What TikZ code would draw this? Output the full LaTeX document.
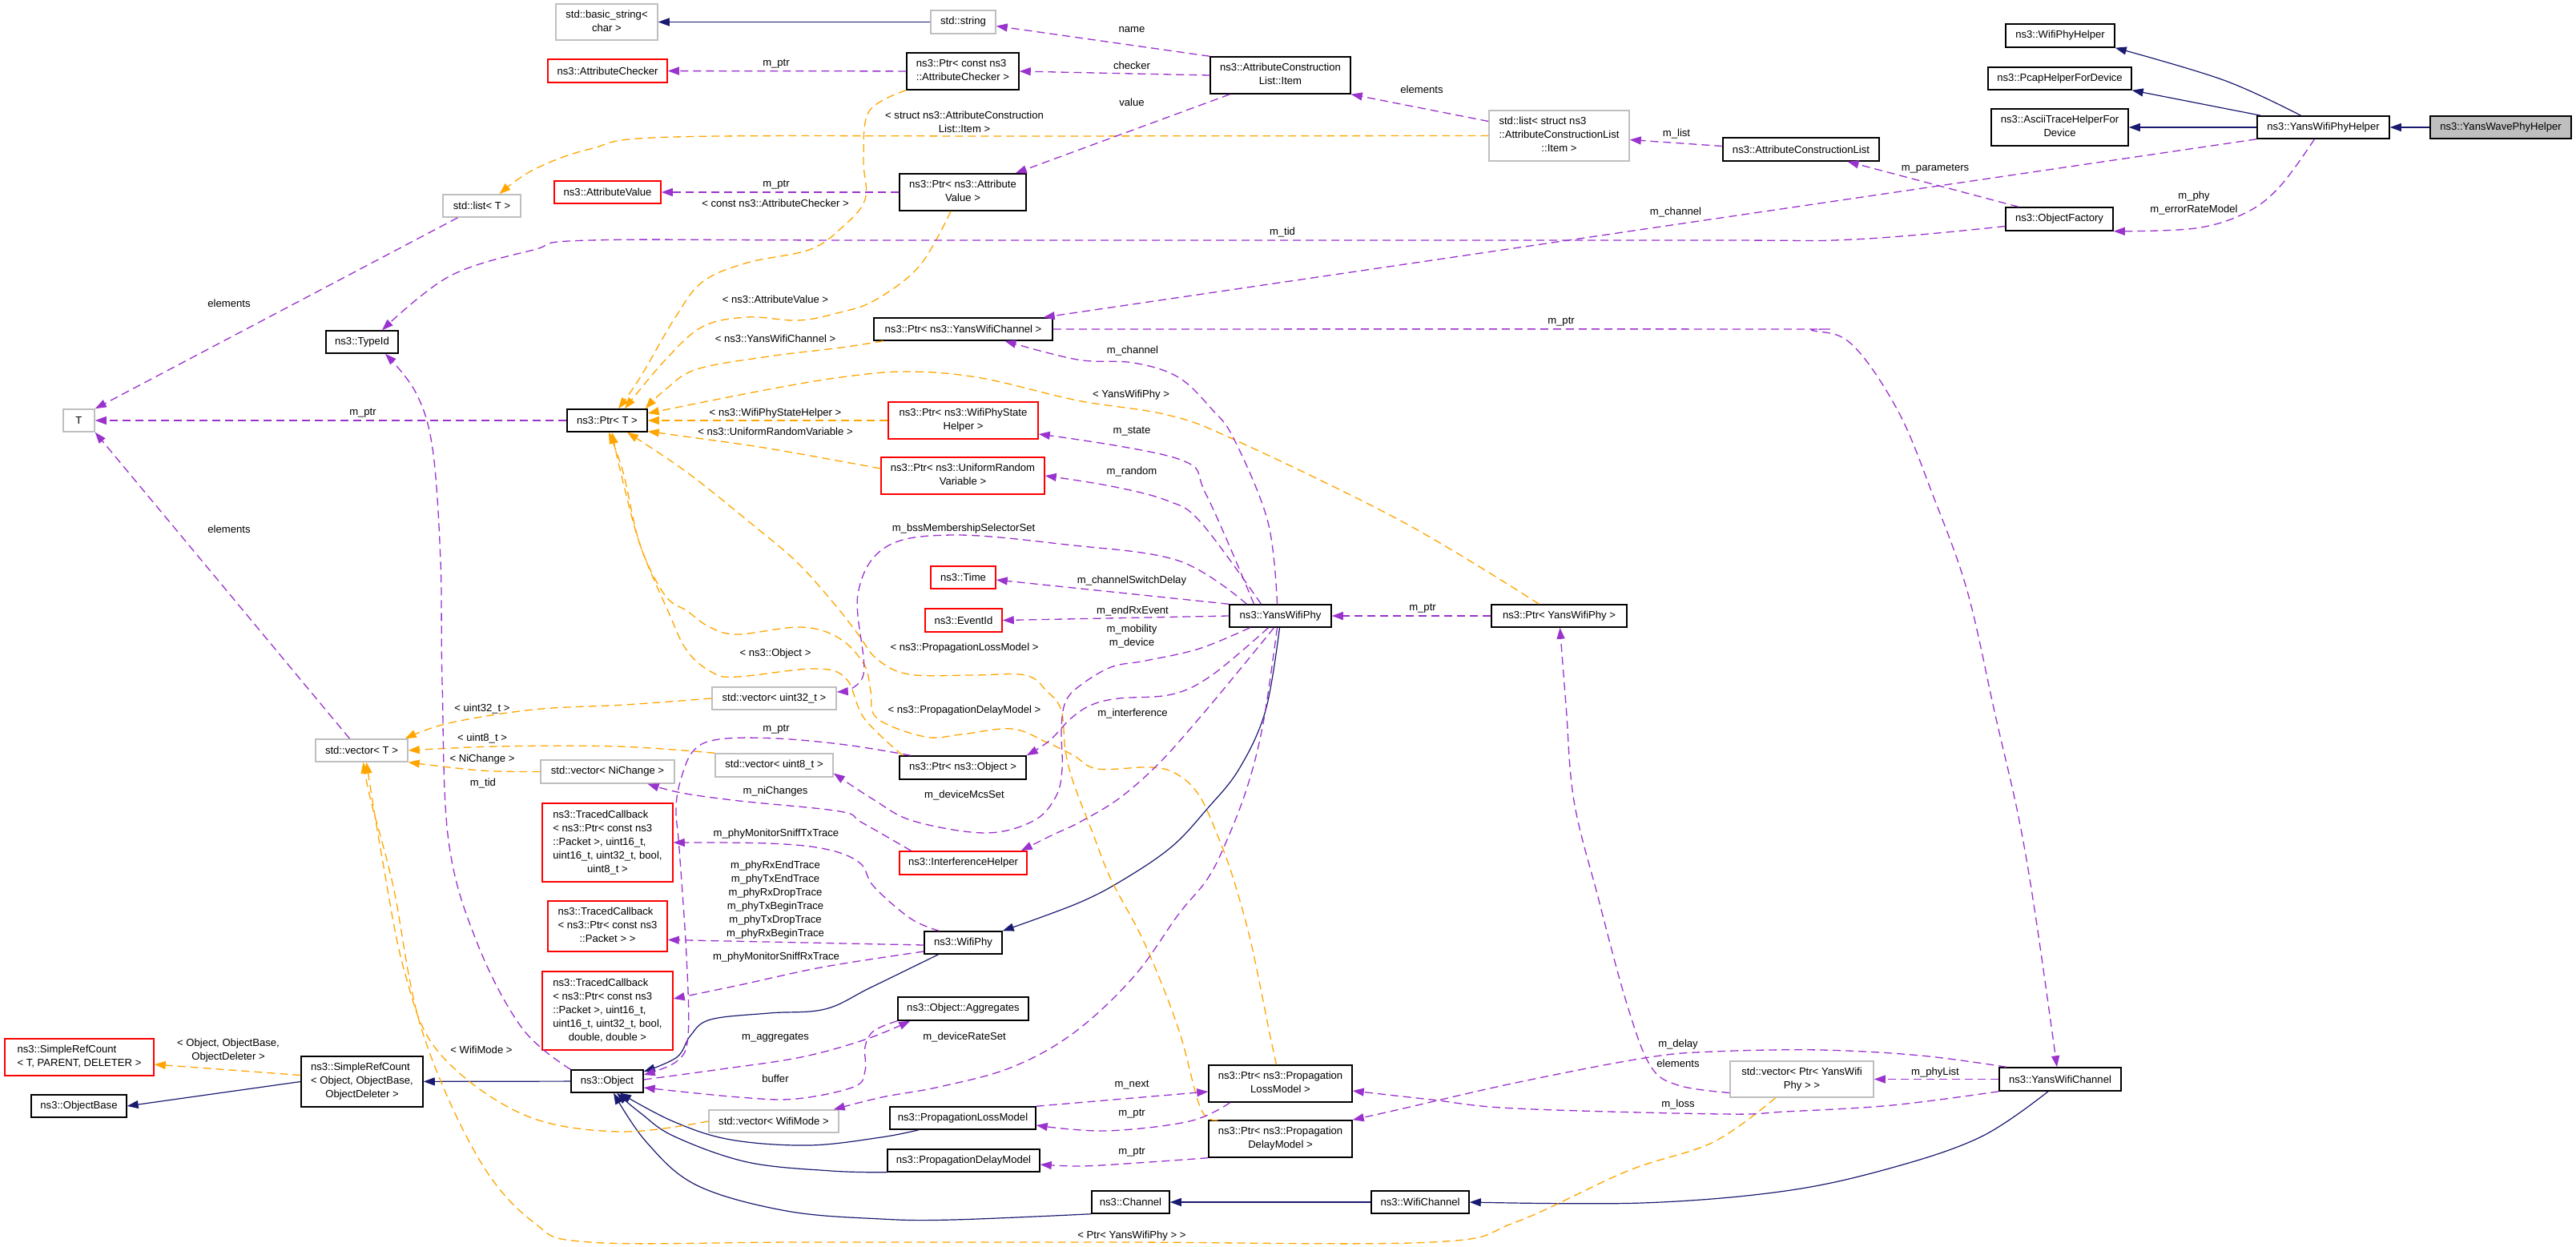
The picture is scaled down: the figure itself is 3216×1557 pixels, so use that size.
\documentclass[tikz,border=0pt]{standalone}
\usepackage{fontspec}
\setmainfont{Liberation Sans}
\usetikzlibrary{arrows.meta,positioning}
\definecolor{inhblue}{HTML}{191970}
\definecolor{usepurple}{HTML}{9A32CD}
\definecolor{tmplorange}{HTML}{FFA500}
\definecolor{boxgray}{HTML}{BFBFBF}
\newcommand{\lbfont}{\fontsize{13.1}{17}\selectfont}
\newcommand{\ml}[2]{\begin{tabular}{@{}l@{}}#1\\\multicolumn{1}{@{}c@{}}{#2}\end{tabular}}
\tikzset{
  box/.style={rectangle, inner sep=0pt, line width=1.5pt, font=\lbfont},
  cls/.style={box, draw=black},
  undoc/.style={box, draw=red},
  ext/.style={box, draw=boxgray},
  self/.style={box, draw=black, fill=boxgray},
  sz/.style 2 args={minimum width=#1pt, minimum height=#2pt},
  elbl/.style={inner sep=0pt, font=\lbfont, align=center},
  tip/.style={-{Triangle[length=14pt,width=10pt]}},
  inh/.style={tip, draw=inhblue, line width=1.2pt},
  use/.style={tip, draw=usepurple, line width=1.3pt, dash pattern=on 10pt off 6pt},
  tmpl/.style={tip, draw=tmplorange, line width=1.3pt, dash pattern=on 10pt off 6pt},
  crv/.style={smooth, tension=0.6}
}
\begin{document}
\begin{tikzpicture}[x=1pt,y=-1pt]
\useasboundingbox (0,0) rectangle (3216,1557);
\node[ext, sz={127}{45}] (bstr) at (757.5,27.5) {\ml{std::basic\_string<}{char >}};
\node[ext, sz={81}{29}] (str) at (1202.5,27.5) {std::string};
\node[undoc, sz={149}{29}] (achk) at (758.5,88.5) {ns3::AttributeChecker};
\node[cls, sz={140}{46}] (pachk) at (1202,89) {\ml{ns3::Ptr< const ns3}{::AttributeChecker >}};
\node[cls, sz={175}{46}] (item) at (1598.5,94) {\ml{ns3::AttributeConstruction}{List::Item}};
\node[ext, sz={175}{63}] (lstItem) at (1946.5,169.5) {\ml{std::list< struct ns3\\::AttributeConstructionList}{::Item >}};
\node[ext, sz={97}{28}] (lstT) at (601.5,257) {std::list< T >};
\node[undoc, sz={133}{28}] (aval) at (758.5,240) {ns3::AttributeValue};
\node[cls, sz={158}{46}] (paval) at (1202,240) {\ml{ns3::Ptr< ns3::Attribute}{Value >}};
\node[cls, sz={90}{28}] (tid) at (452,427) {ns3::TypeId};
\node[ext, sz={39}{28}] (T) at (98.5,525) {T};
\node[cls, sz={100}{28}] (ptrT) at (758,525) {ns3::Ptr< T >};
\node[cls, sz={223}{28}] (pywc) at (1202.5,411) {ns3::Ptr< ns3::YansWifiChannel >};
\node[undoc, sz={187}{46}] (pwpsh) at (1202.5,525) {\ml{ns3::Ptr< ns3::WifiPhyState}{Helper >}};
\node[undoc, sz={204}{46}] (purv) at (1202,594) {\ml{ns3::Ptr< ns3::UniformRandom}{Variable >}};
\node[undoc, sz={81}{28}] (time) at (1202.5,721) {ns3::Time};
\node[undoc, sz={96}{29}] (evid) at (1203,774.5) {ns3::EventId};
\node[cls, sz={127}{28}] (ywp) at (1598.5,769) {ns3::YansWifiPhy};
\node[cls, sz={169}{28}] (pywp) at (1946.5,769) {ns3::Ptr< YansWifiPhy >};
\node[cls, sz={158}{29}] (pobj) at (1202,958.5) {ns3::Ptr< ns3::Object >};
\node[ext, sz={155}{28}] (vu32) at (966.5,872) {std::vector< uint32\_t >};
\node[ext, sz={115}{28}] (vT) at (451.5,937) {std::vector< T >};
\node[ext, sz={147}{29}] (vu8) at (966.5,955.5) {std::vector< uint8\_t >};
\node[ext, sz={167}{29}] (vnic) at (758.5,963.5) {std::vector< NiChange >};
\node[undoc, sz={163}{98}] (tcTx) at (758.5,1052) {\ml{ns3::TracedCallback\\< ns3::Ptr< const ns3\\::Packet >, uint16\_t,\\uint16\_t, uint32\_t, bool,}{uint8\_t >}};
\node[undoc, sz={149}{63}] (tcPkt) at (758.5,1156.5) {\ml{ns3::TracedCallback\\< ns3::Ptr< const ns3}{::Packet > >}};
\node[undoc, sz={163}{98}] (tcRx) at (758.5,1262) {\ml{ns3::TracedCallback\\< ns3::Ptr< const ns3\\::Packet >, uint16\_t,\\uint16\_t, uint32\_t, bool,}{double, double >}};
\node[undoc, sz={159}{29}] (intf) at (1202.5,1077.5) {ns3::InterferenceHelper};
\node[cls, sz={97}{28}] (wphy) at (1202.5,1177) {ns3::WifiPhy};
\node[cls, sz={163}{29}] (aggr) at (1202.5,1259.5) {ns3::Object::Aggregates};
\node[undoc, sz={186}{46}] (srcT) at (99,1320) {\ml{ns3::SimpleRefCount}{< T, PARENT, DELETER >}};
\node[cls, sz={119}{28}] (obase) at (98.5,1381) {ns3::ObjectBase};
\node[cls, sz={152}{63}] (srcObj) at (452,1350.5) {\ml{ns3::SimpleRefCount\\< Object, ObjectBase,}{ObjectDeleter >}};
\node[cls, sz={90}{28}] (obj) at (758,1350) {ns3::Object};
\node[ext, sz={162}{28}] (vwm) at (966,1400) {std::vector< WifiMode >};
\node[cls, sz={179}{46}] (pplm) at (1598.5,1353) {\ml{ns3::Ptr< ns3::Propagation}{LossModel >}};
\node[cls, sz={182}{28}] (plm) at (1202,1396) {ns3::PropagationLossModel};
\node[cls, sz={179}{46}] (ppdm) at (1598.5,1422) {\ml{ns3::Ptr< ns3::Propagation}{DelayModel >}};
\node[cls, sz={190}{28}] (pdm) at (1203,1449) {ns3::PropagationDelayModel};
\node[cls, sz={97}{28}] (chan) at (1411.5,1501) {ns3::Channel};
\node[cls, sz={122}{28}] (wchan) at (1773,1501) {ns3::WifiChannel};
\node[ext, sz={179}{45}] (vpywp) at (2249.5,1347.5) {\ml{std::vector< Ptr< YansWifi}{Phy > >}};
\node[cls, sz={152}{29}] (ywc) at (2572,1347.5) {ns3::YansWifiChannel};
\node[cls, sz={195}{29}] (acl) at (2248.5,186.5) {ns3::AttributeConstructionList};
\node[cls, sz={134}{29}] (ofac) at (2571,273.5) {ns3::ObjectFactory};
\node[cls, sz={136}{29}] (wph) at (2572,44.5) {ns3::WifiPhyHelper};
\node[cls, sz={179}{28}] (pcap) at (2571.5,98) {ns3::PcapHelperForDevice};
\node[cls, sz={171}{46}] (ascii) at (2571.5,159) {\ml{ns3::AsciiTraceHelperFor}{Device}};
\node[cls, sz={165}{28}] (ywph) at (2900.5,159) {ns3::YansWifiPhyHelper};
\node[self, sz={176}{28}] (ywave) at (3122,159) {ns3::YansWavePhyHelper};

\draw[inh] (str) -- (bstr);
\draw[inh] plot[crv] coordinates {([xshift=-28pt]ywph.north) (2776,100) (wph.south east)};
\draw[inh] ([xshift=-78pt]ywph.north) -- (pcap.south east);
\draw[inh] (ywph) -- (ascii);
\draw[inh] (ywave) -- (ywph);
\draw[inh] plot[crv] coordinates {([xshift=-1pt]ywp.south) (1580,887) (1547,960) (1507,1010) (1463,1057) (1403,1098) (1345,1128) (wphy.north east)};
\draw[inh] plot[crv] coordinates {([xshift=-31pt]wphy.south) (1087,1233) (1030,1260) (960,1265) (887,1273) (862,1293) (845,1320) ([yshift=12pt]obj.east)};
\draw[inh] (obj) -- (srcObj);
\draw[inh] (srcObj.west) -- (obase.east);
\draw[inh] plot[crv] coordinates {([xshift=-55pt]plm.south) (1100,1420) (1010,1430) (912,1423) (840,1400) ([xshift=16pt]obj.south)};
\draw[inh] plot[crv] coordinates {(pdm.south west) (1038,1462) (933,1451) (842,1419) (800,1390) ([xshift=12pt]obj.south)};
\draw[inh] plot[crv] coordinates {(chan.south west) (1190,1523) (1100,1522) (982,1512) (870,1480) (807,1426) ([xshift=8pt]obj.south)};
\draw[inh] (wchan) -- (chan);
\draw[inh] plot[crv] coordinates {([xshift=-15pt]ywc.south) (2474,1419) (2362,1458) (2229,1487) (2050,1502) (wchan.east)};

\draw[tmpl] plot[crv] coordinates {(lstItem.west) (1300,170) (842,171) (737,186) (666,212) ([xshift=22pt]lstT.north)};
\draw[tmpl] plot[crv] coordinates {(pachk.south west) (1085,139) (1078,199) (1080,249) (1050,285) (1010,312) (933,328) (877,352) (842,398) (800,470) ([xshift=14pt]ptrT.north)};
\draw[tmpl] plot[crv] coordinates {([xshift=-15pt]paval.south) (1148,332) (1092,375) (1045,391) (996,400) (933,396) (877,408) (830,450) ([xshift=22pt]ptrT.north)};
\draw[tmpl] plot[crv] coordinates {([xshift=-100pt]pywc.south) (1050,434) (960,445) (870,461) (830,487) ([xshift=-3pt]ptrT.north east)};
\draw[tmpl] plot[crv] coordinates {([xshift=-25pt]pywp.north) (1752,652) (1541,549) (1457,518) (1345,500) (1225,472) (1134,464) (1050,471) (950,488) (ptrT.10)};
\draw[tmpl] (pwpsh) -- (ptrT);
\draw[tmpl] plot[crv] coordinates {(purv.175) (960,560) (870,547) (ptrT.-15)};
\draw[tmpl] plot[crv] coordinates {([xshift=-75pt]pobj.north) (1079,897) (1056,847) (1016,835) (921,845) (890,840) (858,813) (834,763) (799,680) (775,590) ([xshift=6pt]ptrT.south)};
\draw[tmpl] plot[crv] coordinates {([xshift=-5pt]pplm.north) (1585,1290) (1562,1178) (1540,1098) (1520,1043) (1497,993) (1470,967) (1437,958) (1370,960) (1340,943) (1307,927) (1263,910) (1200,917) (1155,920) (1095,897) (1087,863) (1079,830) (1048,797) (1000,783) (921,792) (886,783) (858,763) (830,743) (799,680) (778,590) ([xshift=2pt]ptrT.south)};
\draw[tmpl] plot[crv] coordinates {([xshift=-78pt]ppdm.north) (1499,1384) (1471,1284) (1429,1178) (1387,1098) (1363,1037) (1340,977) (1330,937) (1325,887) (1307,863) (1280,843) (1214,843) (1135,842) (1095,823) (1072,793) (1044,757) (996,703) (937,653) (858,590) ([xshift=25pt]ptrT.south)};
\draw[tmpl] plot[crv] coordinates {(vu32.west) (780,880) (666,886) (560,903) ([xshift=-4pt]vT.north east)};
\draw[tmpl] plot[crv] coordinates {(vu8.north west) (772,932) (620,932) (vT.east)};
\draw[tmpl] plot[crv] coordinates {(vnic.west) (600,962) (vT.south east)};
\draw[tmpl] plot[crv] coordinates {(vwm.west) (772,1413) (652,1391) (547,1313) (505,1213) (477,1071) ([xshift=6pt]vT.south)};
\draw[tmpl] plot[crv] coordinates {([xshift=-33pt]vpywp.south) (2139,1426) (2032,1462) (1892,1526) (1787,1551) (1400,1551) (1000,1551) (737,1551) (666,1526) (596,1444) (526,1284) (491,1107) (463,1000) ([xshift=2pt]vT.south)};
\draw[tmpl] ([yshift=8pt]srcObj.west) -- ([yshift=-9pt]srcT.east);

\draw[use] (item.north west) -- ([yshift=-5pt]str.east);
\draw[use] (item.west) -- (pachk.east);
\draw[use] ([xshift=-63pt]item.south) -- ([xshift=-14pt]paval.north east);
\draw[use] ([yshift=18pt]lstItem.west) -- (item.south east);
\draw[use] ([yshift=4pt]acl.west) -- ([yshift=-5pt]lstItem.east);
\draw[use] ([xshift=-51pt]ofac.north) -- ([xshift=58pt]acl.south);
\draw[use] plot[crv] coordinates {([xshift=-11pt]ywph.south) (2847,232) (2805,265) (2741,285) (ofac.south east)};
\draw[use] plot[crv] coordinates {([yshift=-9pt]ofac.west) (2313,299) (2100,300) (1100,300) (737,300) (666,312) (561,345) ([xshift=25pt]tid.north)};
\draw[use] (ywph.south west) -- ([xshift=-12pt]pywc.north east);
\draw[use] plot[crv] coordinates {(pywc.east) (2200,411) (2264,413) (2313,431) (2370,514) (2413,618) (2456,738) (2491,893) (2520,1020) (2541,1142) ([xshift=-4pt]ywc.north)};
\draw[use] (pachk) -- (achk);
\draw[use] (paval) -- (aval);
\draw[use] (ptrT) -- (T);
\draw[use] ([xshift=-30pt]lstT.south) -- (T.north east);
\draw[use] ([xshift=-15pt]vT.north) -- (T.south east);
\draw[use] plot[crv] coordinates {(obj.north west) (652,1284) (596,1178) (560,1050) (552,850) (550,700) (540,560) (519,490) ([xshift=29pt]tid.south)};
\draw[use] plot[crv] coordinates {([xshift=-4pt]ywp.north) (1583,652) (1541,549) (1513,511) (1471,471) (1415,453) (1345,449) ([xshift=52pt]pywc.south)};
\draw[use] plot[crv] coordinates {([xshift=-33pt]ywp.north) (1506,618) (1471,573) ([yshift=-17pt]pwpsh.east)};
\draw[use] plot[crv] coordinates {([xshift=-24pt]ywp.north) (1499,652) (1457,625) (1387,607) (purv.east)};
\draw[use] plot[crv] coordinates {([xshift=-42pt]ywp.north) (1471,700) (1331,680) (1190,668) (1106,683) (1071,742) (1078,842) ([yshift=8pt]vu32.east)};
\draw[use] (ywp.north west) -- ([yshift=-3pt]time.east);
\draw[use] (ywp.west) -- (evid.east);
\draw[use] (pywp) -- (ywp);
\draw[use] plot[crv] coordinates {([xshift=-15pt]ywp.south) (1513,843) (1463,867) (1397,872) (1363,880) (1337,897) (1310,925) (pobj.north east)};
\draw[use] plot[crv] coordinates {([xshift=-8pt]ywp.south) (1547,837) (1497,897) (1447,953) (1397,997) (1347,1027) (1313,1043) ([xshift=-8pt]intf.north east)};
\draw[use] plot[crv] coordinates {([xshift=-38pt]ywp.south) (1497,810) (1430,825) (1387,833) (1347,857) (1330,877) (1325,910) (1326,960) (1318,995) (1290,1025) (1230,1040) (1140,1025) (1090,998) ([yshift=-10pt]vu8.east)};
\draw[use] plot[crv] coordinates {([xshift=-4pt]ywp.south) (1577,903) (1557,983) (1530,1053) (1507,1098) (1471,1142) (1415,1220) (1340,1290) (1262,1333) (1173,1357) (1101,1370) ([xshift=-7pt]vwm.north east)};
\draw[use] plot[crv] coordinates {([xshift=-65pt]pobj.north) (1056,930) (969,922) (898,923) (866,937) (850,973) (844,1010) (848,1060) (857,1193) (859,1293) (845,1325) ([yshift=8pt]obj.east)};
\draw[use] plot[crv] coordinates {([yshift=2pt]obj.east) (900,1335) (1000,1320) (1080,1298) ([xshift=16pt]aggr.south west)};
\draw[use] plot[crv] coordinates {(aggr.south west) (1091,1287) (1080,1307) (1080,1337) (1066,1357) (994,1372) (923,1370) ([yshift=-8pt]obj.east)};
\draw[use] plot[crv] coordinates {([xshift=-65pt]intf.north) (1076,1027) (1048,1013) (923,1000) (851,990) ([xshift=50pt]vnic.south)};
\draw[use] plot[crv] coordinates {([xshift=-30pt]wphy.north) (1137,1147) (1091,1107) (1073,1077) (1030,1060) (959,1053) (tcTx.east)};
\draw[use] ([yshift=-3pt]wphy.west) -- ([yshift=-17pt]tcPkt.east);
\draw[use] plot[crv] coordinates {([yshift=-11pt]wphy.west) (1030,1207) (923,1230) ([yshift=15pt]tcRx.east)};
\draw[use] (plm.north east) -- ([yshift=-10pt]pplm.west);
\draw[use] plot[crv] coordinates {([xshift=-63pt]pplm.south) (1485,1400) (1380,1412) ([yshift=-9pt]plm.east)};
\draw[use] plot[crv] coordinates {(ppdm.south west) (1420,1452) (1350,1456) ([yshift=-5pt]pdm.east)};
\draw[use] plot[crv] coordinates {([xshift=-67pt]ywc.north) (2398,1318) (2273,1311) (2139,1313) (2053,1321) (1892,1352) (1752,1384) (ppdm.north east)};
\draw[use] plot[crv] coordinates {([yshift=-17pt]vpywp.west) (2095,1355) (2060,1330) (2030,1250) (1995,1120) (1965,1000) (1955,880) ([xshift=1pt]pywp.south)};
\draw[use] plot[crv] coordinates {(ywc.south west) (2362,1380) (2229,1388) (2150,1391) (1892,1384) (1787,1373) ([yshift=-9pt]pplm.east)};
\draw[use] (ywc) -- (vpywp);

\node[elbl] (lName) at (1413,37) {name};
\node[elbl] (lChecker) at (1413,82) {checker};
\node[elbl] (lValue) at (1413,128) {value};
\node[elbl] (lElemItem) at (1775,112) {elements};
\node[elbl] (lList) at (2093,167) {m\_list};
\node[elbl] (lParams) at (2416,211) {m\_parameters};
\node[elbl] (lPhy) at (2739,254) {m\_phy\\m\_errorRateModel};
\node[elbl] (lTidOF) at (1601,290) {m\_tid};
\node[elbl] (lChanHelper) at (2092,265) {m\_channel};
\node[elbl] (lPtrYwc) at (1949,402) {m\_ptr};
\node[elbl] (lStructItem) at (1204,152) {< struct ns3::AttributeConstruction\\List::Item >};
\node[elbl] (lConstChk) at (968,254) {< const ns3::AttributeChecker >};
\node[elbl] (lPtrChk) at (969,80) {m\_ptr};
\node[elbl] (lPtrVal) at (969,231) {m\_ptr};
\node[elbl] (lAttrVal) at (968,374) {< ns3::AttributeValue >};
\node[elbl] (lYwcT) at (968,423) {< ns3::YansWifiChannel >};
\node[elbl] (lElemList) at (286,379) {elements};
\node[elbl] (lPtrT) at (453,516) {m\_ptr};
\node[elbl] (lWpsh) at (968,516) {< ns3::WifiPhyStateHelper >};
\node[elbl] (lUrv) at (968,539) {< ns3::UniformRandomVariable >};
\node[elbl] (lElemVec) at (286,661) {elements};
\node[elbl] (lObjT) at (968,816) {< ns3::Object >};
\node[elbl] (lU32) at (602,885) {< uint32\_t >};
\node[elbl] (lU8) at (602,922) {< uint8\_t >};
\node[elbl] (lNic) at (602,948) {< NiChange >};
\node[elbl] (lTidObj) at (603,978) {m\_tid};
\node[elbl] (lPtrObj) at (969,911) {m\_ptr};
\node[elbl] (lNiChanges) at (968,988) {m\_niChanges};
\node[elbl] (lYwpT) at (1412,493) {< YansWifiPhy >};
\node[elbl] (lChanPhy) at (1414,438) {m\_channel};
\node[elbl] (lState) at (1413,539) {m\_state};
\node[elbl] (lRandom) at (1413,589) {m\_random};
\node[elbl] (lBss) at (1203,660) {m\_bssMembershipSelectorSet};
\node[elbl] (lSwitch) at (1413,725) {m\_channelSwitchDelay};
\node[elbl] (lEndRx) at (1414,763) {m\_endRxEvent};
\node[elbl] (lPtrYwp) at (1776,760) {m\_ptr};
\node[elbl] (lMobility) at (1413,795) {m\_mobility\\m\_device};
\node[elbl] (lPlmT) at (1204,809) {< ns3::PropagationLossModel >};
\node[elbl] (lPdmT) at (1204,887) {< ns3::PropagationDelayModel >};
\node[elbl] (lInterf) at (1414,891) {m\_interference};
\node[elbl] (lMcs) at (1204,993) {m\_deviceMcsSet};
\node[elbl] (lSniffTx) at (969,1041) {m\_phyMonitorSniffTxTrace};
\node[elbl] (lTraces) at (968,1123.5) {m\_phyRxEndTrace\\m\_phyTxEndTrace\\m\_phyRxDropTrace\\m\_phyTxBeginTrace\\m\_phyTxDropTrace\\m\_phyRxBeginTrace};
\node[elbl] (lSniffRx) at (969,1195) {m\_phyMonitorSniffRxTrace};
\node[elbl] (lAggr) at (968,1296) {m\_aggregates};
\node[elbl] (lBuffer) at (968,1347) {buffer};
\node[elbl] (lRate) at (1204,1295) {m\_deviceRateSet};
\node[elbl] (lSrc) at (285,1312) {< Object, ObjectBase,\\ObjectDeleter >};
\node[elbl] (lWm) at (601,1311) {< WifiMode >};
\node[elbl] (lNext) at (1413,1355) {m\_next};
\node[elbl] (lPtrPlm) at (1413,1391) {m\_ptr};
\node[elbl] (lPtrPdm) at (1413,1439) {m\_ptr};
\node[elbl] (lPyT) at (1413,1543) {< Ptr< YansWifiPhy > >};
\node[elbl] (lDelay) at (2095,1304) {m\_delay};
\node[elbl] (lElemPy) at (2095,1328) {elements};
\node[elbl] (lLoss) at (2095,1379) {m\_loss};
\node[elbl] (lPhyList) at (2416,1339) {m\_phyList};
\end{tikzpicture}
\end{document}
